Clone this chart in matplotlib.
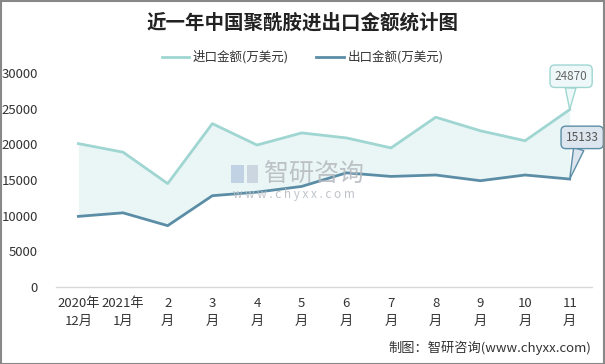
import matplotlib.pyplot as plt
from matplotlib.patches import Rectangle

plt.rcParams['font.family'] = ['Noto Sans CJK SC', 'DejaVu Sans']

# data
months = ['2020年\n12月', '2021年\n1月', '2\n月', '3\n月', '4\n月', '5\n月',
          '6\n月', '7\n月', '8\n月', '9\n月', '10\n月', '11\n月']
imports = [20100, 18900, 14500, 22900, 19900, 21600, 20900, 19500, 23800, 21900, 20500, 24870]
exports = [9900, 10400, 8600, 12800, 13300, 14100, 16000, 15500, 15700, 14900, 15700, 15133]
yticks = [0, 5000, 10000, 15000, 20000, 25000, 30000]

imp_color = '#9fd6d2'
exp_color = '#5b8ea6'

fig = plt.figure(figsize=(6.05, 3.64), dpi=100)
ax = fig.add_axes([0.0926, 0.2115, 0.886, 0.588])

x = range(len(months))
ax.fill_between(x, exports, imports, color='#eaf6f6', lw=0)
ax.plot(x, imports, color=imp_color, lw=2, label='进口金额(万美元)')
ax.plot(x, exports, color=exp_color, lw=2, label='出口金额(万美元)')

ax.set_xlim(-0.5, len(months) - 0.5)
ax.set_ylim(0, 30000)
ax.set_yticks(yticks)
ax.set_yticklabels([str(v) for v in yticks], fontsize=9.5, color='#333333')
ax.set_xticks(list(x))
ax.set_xticklabels(months, fontsize=9.5, color='#333333', linespacing=1.55)
ax.tick_params(axis='y', length=0, pad=13)
ax.tick_params(axis='x', length=0, pad=7)
for s in ['top', 'right', 'left']:
    ax.spines[s].set_visible(False)
ax.spines['bottom'].set_color('#d9d9d9')
ax.spines['bottom'].set_linewidth(1)

# callouts on the last points
last = len(months) - 1
ax.annotate(str(imports[last]), (last, imports[last]), xytext=(1, 24),
            textcoords='offset points', ha='center', va='center',
            fontsize=8.5, color='#666666',
            bbox=dict(boxstyle='round,pad=0.4', fc='#eef8f8', ec=imp_color, lw=1),
            arrowprops=dict(arrowstyle='wedge,tail_width=0.9,shrink_factor=0.5',
                            fc='#eef8f8', ec=imp_color, lw=1, shrinkA=0, shrinkB=0))
ax.annotate(str(exports[last]), (last, exports[last]), xytext=(9, 30),
            textcoords='offset points', ha='center', va='center',
            fontsize=8.5, color='#555555',
            bbox=dict(boxstyle='round,pad=0.4', fc='#dde6ee', ec=exp_color, lw=1),
            arrowprops=dict(arrowstyle='wedge,tail_width=0.9,shrink_factor=0.5',
                            fc='#dde6ee', ec=exp_color, lw=1, shrinkA=0, shrinkB=0),
            annotation_clip=False)

fig.text(0.5, 0.938, '近一年中国聚酰胺进出口金额统计图', ha='center', va='center',
         fontsize=14, fontweight='bold', color='#222222')
fig.legend(loc='center', bbox_to_anchor=(0.5, 0.843), ncol=2, frameon=False,
           fontsize=9, handlelength=2.2, handletextpad=0.3, columnspacing=2.2,
           labelcolor='#333333')

# watermark
fig.patches.append(Rectangle((0.382, 0.497), 0.022, 0.05, transform=fig.transFigure,
                             fc='#bccfe2', ec='none', alpha=0.9))
fig.patches.append(Rectangle((0.408, 0.497), 0.018, 0.05, transform=fig.transFigure,
                             fc='#c9d3de', ec='none', alpha=0.9))
fig.text(0.436, 0.522, '智研咨询', fontsize=18, color='#b4b8be', alpha=0.85,
         ha='left', va='center')
fig.text(0.385, 0.467, 'w w w . c h y x x . c o m', fontsize=8.5, color='#b8bcc2',
         alpha=0.9, ha='left', va='center')

fig.text(0.978, 0.045, '制图：智研咨询(www.chyxx.com)', ha='right', va='center',
         fontsize=9.5, color='#333333')

fig.patches.append(Rectangle((0.001, 0.001), 0.997, 0.997, transform=fig.transFigure,
                             fill=False, ec='#888888', lw=1.5))

fig.savefig('out.png', dpi=100)
